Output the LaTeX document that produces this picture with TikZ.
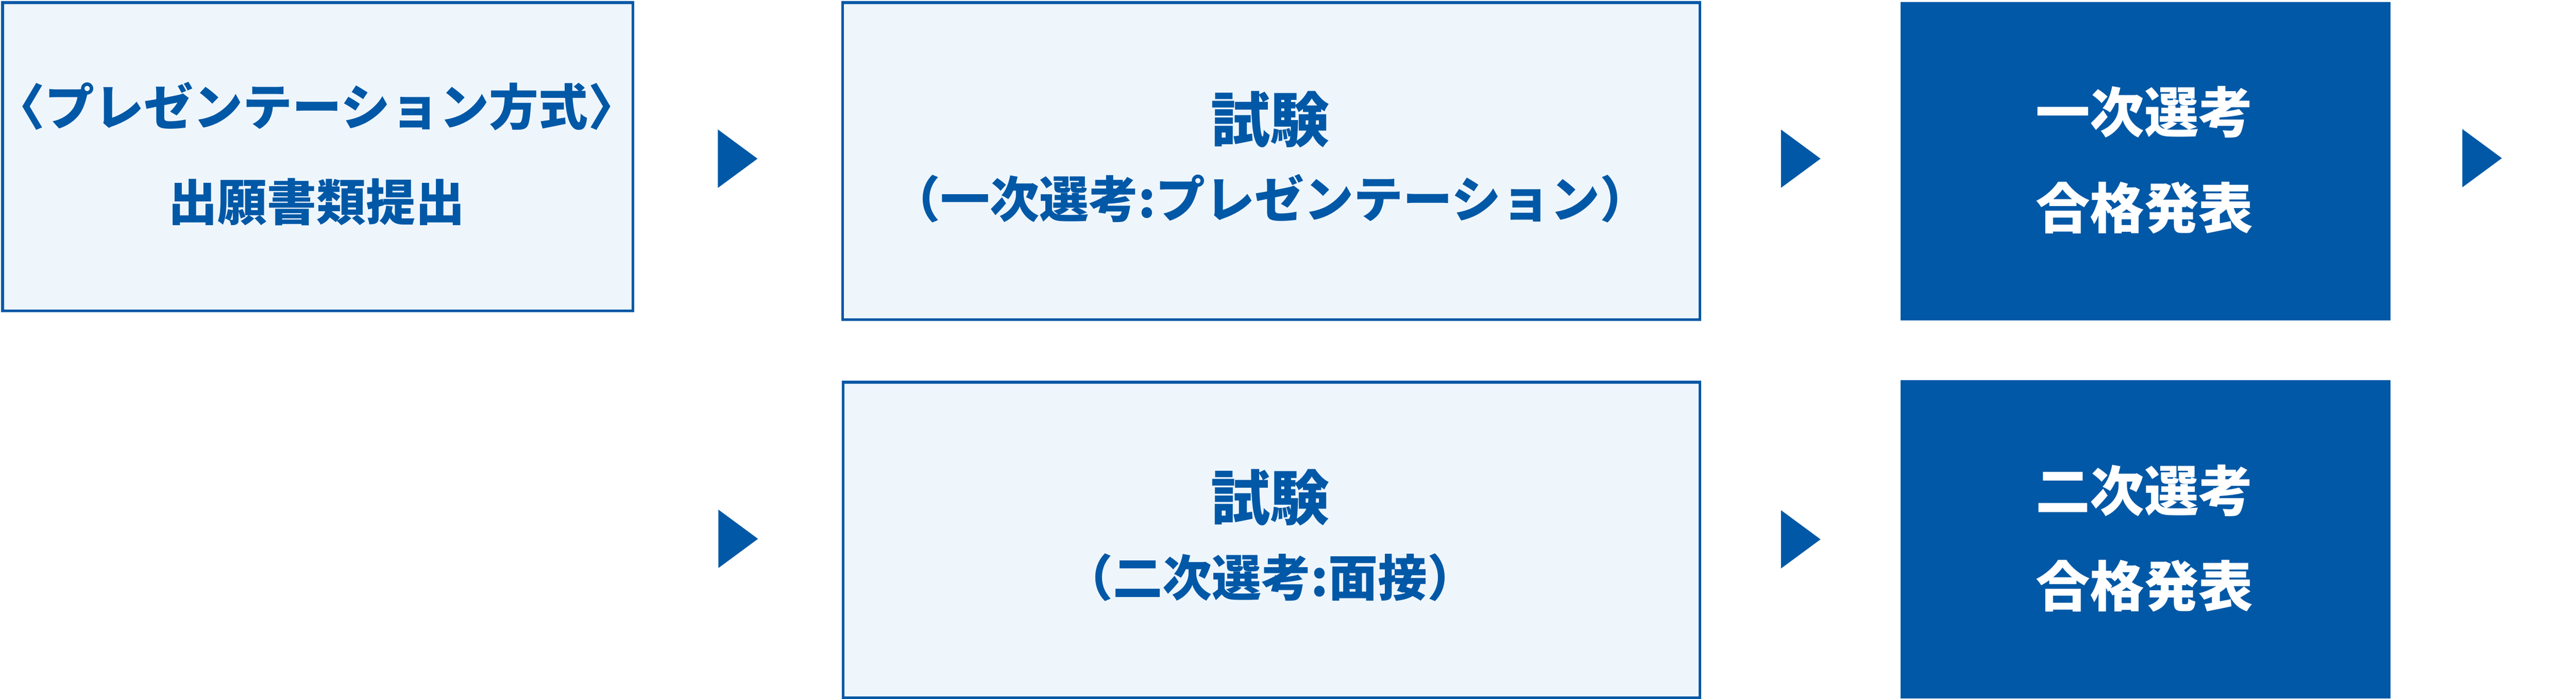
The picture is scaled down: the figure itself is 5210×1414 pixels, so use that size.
\documentclass[tikz,border=0pt]{standalone}
\usepackage{fontspec}
\setmainfont{Noto Sans CJK JP}
\definecolor{mainblue}{HTML}{0058A6}
\definecolor{lightfill}{HTML}{EEF6FC}
\begin{document}
\begin{tikzpicture}[x=0.1pt,y=-0.1pt,
  lightbox/.style={draw=mainblue,line width=0.55pt,fill=lightfill,inner sep=0pt,anchor=north west},
  darkbox/.style={fill=mainblue,inner sep=0pt,anchor=north west},
  tri/.style={fill=mainblue},
  lblS/.style={font=\bfseries\fontsize{10pt}{12pt}\selectfont,text=mainblue,inner sep=0pt},
  lblL/.style={font=\bfseries\fontsize{12pt}{14pt}\selectfont,text=mainblue,inner sep=0pt},
  lblW/.style={font=\bfseries\fontsize{11pt}{13pt}\selectfont,text=white,inner sep=0pt}]
\useasboundingbox (0,0) rectangle (5210,1414);
% boxes
\node[lightbox,minimum width=127.5pt,minimum height=62.4pt] (b1) at (2.5,2.5) {};
\node[lightbox,minimum width=173.4pt,minimum height=64.1pt] (b2) at (1701.5,2.5) {};
\node[darkbox,minimum width=99.1pt,minimum height=64.4pt] (b3) at (3842,2) {};
\node[lightbox,minimum width=173.3pt,minimum height=63.8pt] (b4) at (1702.5,770.5) {};
\node[darkbox,minimum width=99.1pt,minimum height=64.4pt] (b5) at (3842,767) {};
% texts
\node[lblS] (t1a) at (640,215) {〈プレゼンテーション方式〉};
\node[lblS] (t1b) at (640,408) {出願書類提出};
\node[lblL] (t2a) at (2569,242) {試験};
\node[lblS] (t2b) at (2569,402) {（一次選考:プレゼンテーション）};
\node[lblW] (t3a) at (4337,227) {一次選考};
\node[lblW] (t3b) at (4337,420) {合格発表};
\node[lblL] (t4a) at (2569,1007) {試験};
\node[lblS] (t4b) at (2569,1168) {（二次選考:面接）};
\node[lblW] (t5a) at (4337,992) {二次選考};
\node[lblW] (t5b) at (4337,1185) {合格発表};
% arrows
\coordinate (a1) at (1452,321);
\coordinate (a2) at (3602,321);
\coordinate (a3) at (4980,320);
\coordinate (a4) at (1453,1090);
\coordinate (a5) at (3602,1091);
\foreach \a in {a1,a2,a3,a4,a5}
  \fill[tri] (\a) ++(0,-59) -- ++(80,59) -- ++(-80,59) -- cycle;
\end{tikzpicture}
\end{document}
